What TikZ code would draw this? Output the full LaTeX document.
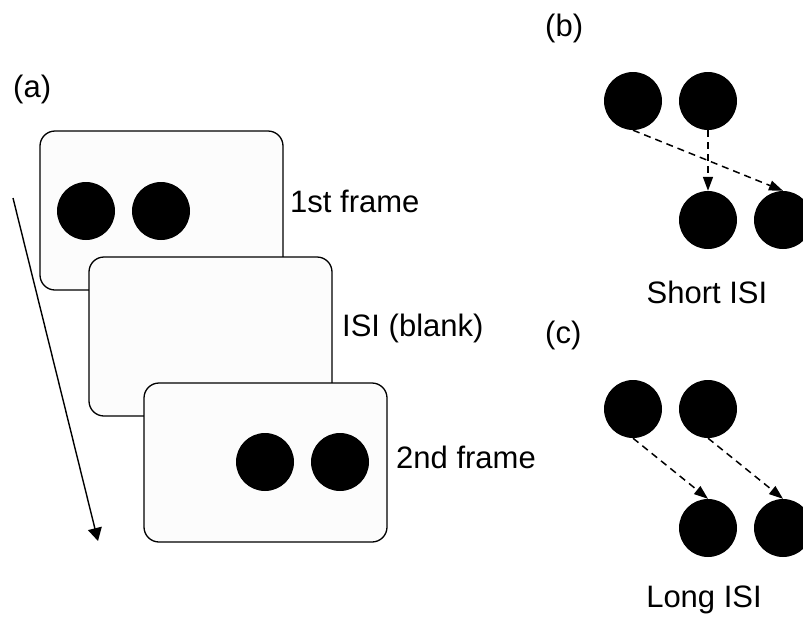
\documentclass[tikz,border=0pt]{standalone}
\usepackage{fontspec}
\setmainfont{Liberation Sans}
\usetikzlibrary{arrows.meta}
\begin{document}
\begin{tikzpicture}[x=1pt,y=-1pt,
  frame/.style={draw=black,line width=1.3pt,fill=black!1,rounded corners=15pt,
    minimum width=243pt,minimum height=159pt,inner sep=0pt},
  dot/.style={circle,fill=black,minimum size=58pt,inner sep=0pt},
  lbl/.style={font=\fontsize{31}{37}\selectfont,inner sep=0pt},
  motion/.style={line width=1.5pt,dash pattern=on 7pt off 5pt,
    -{Triangle[length=14pt,width=10pt]}},
  timearrow/.style={line width=1.4pt,-{Triangle[length=13pt,width=14pt]}}]
\clip (0,0) rectangle (803,619);
\fill[white] (0,0) rectangle (803,619);
% panel (a)
\node[frame] (f1) at (161.5,210.5) {};
\node[dot] (d1) at (86,211) {};
\node[dot] (d2) at (161,211) {};
\node[frame] (f2) at (210.5,336.5) {};
\node[frame] (f3) at (265.5,462.5) {};
\node[dot] (d3) at (265,462) {};
\node[dot] (d4) at (340,462) {};
\coordinate (t0) at (13,198);
\coordinate (t1) at (98,541);
\draw[timearrow] (t0) -- (t1);
\node[lbl,anchor=base west] (la) at (13,97) {(a)};
\node[lbl,anchor=base west] (l1) at (290,212) {1st frame};
\node[lbl,anchor=base west] (l2) at (342,336) {ISI (blank)};
\node[lbl,anchor=base west] (l3) at (396,468) {2nd frame};
% panel (b)
\node[lbl,anchor=base west] (lb) at (545,36) {(b)};
\node[dot] (b1) at (633,101) {};
\node[dot] (b2) at (708,101) {};
\node[dot] (b3) at (708,220) {};
\node[dot] (b4) at (783,220) {};
\draw[motion] (b1.south) -- (b4.north);
\draw[motion] (b2.south) -- (b3.north);
\node[lbl,anchor=base] (ls) at (707,303) {Short ISI};
% panel (c)
\node[lbl,anchor=base west] (lc) at (545,343) {(c)};
\node[dot] (c1) at (633,409) {};
\node[dot] (c2) at (708,409) {};
\node[dot] (c3) at (708,528) {};
\node[dot] (c4) at (783,528) {};
\draw[motion] (c1.south) -- (c3.north);
\draw[motion] (c2.south) -- (c4.north);
\node[lbl,anchor=base] (ll) at (704,607) {Long ISI};
\end{tikzpicture}
\end{document}
